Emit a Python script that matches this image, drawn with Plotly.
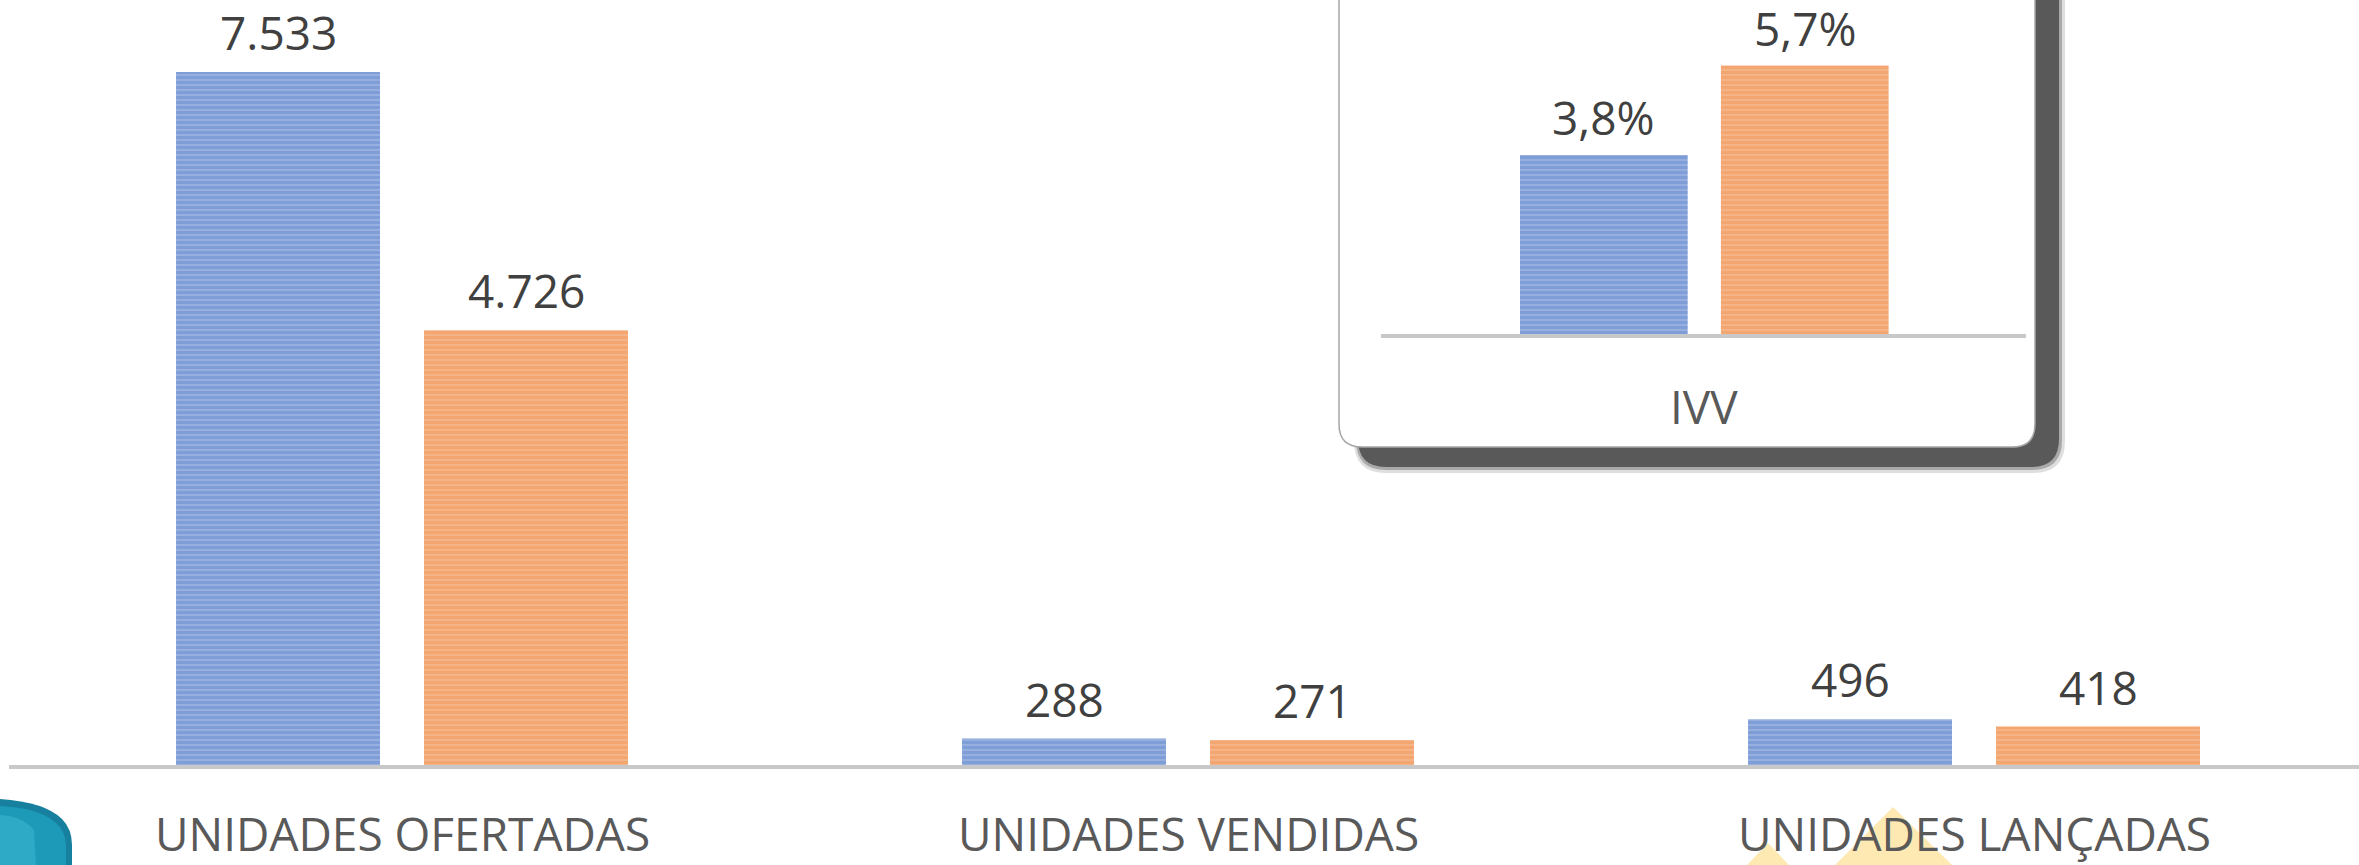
import plotly.graph_objects as go

W, H = 2359, 865

# ---- data ----
categories = ["UNIDADES OFERTADAS", "UNIDADES VENDIDAS", "UNIDADES LANÇADAS"]
series_a = [7533, 288, 496]      # blue
series_b = [4726, 271, 418]      # orange
inset_categories = ["IVV"]
inset_a = [3.8]
inset_b = [5.7]

BLUE_FG, BLUE_BG = "#4472C4", "#BACBEC"
ORANGE_FG, ORANGE_BG = "#ED7D31", "#F9CEAF"
VAL_COLOR = "#404040"
LAB_COLOR = "#595959"
FONT = "Open Sans"
FS = 46
PAT_SIZE, PAT_SOL = 5, 0.85


def fmt_int(v):
    return f"{v:,}".replace(",", ".")


def fmt_pct(v):
    return f"{v:.1f}".replace(".", ",") + "%"


def px(x):
    return x / W


def py(y):
    return 1 - y / H


def bar_marker(fg, bg):
    return dict(color=bg, line=dict(width=0),
                pattern=dict(shape="-", fgcolor=fg, bgcolor=bg,
                             size=PAT_SIZE, solidity=PAT_SOL))


fig = go.Figure()

# main bars
bw = 0.2595
fig.add_trace(go.Bar(x=categories, y=series_a, width=bw, offset=-0.2875,
                     marker=bar_marker(BLUE_FG, BLUE_BG),
                     xaxis="x", yaxis="y", hoverinfo="skip", showlegend=False))
fig.add_trace(go.Bar(x=categories, y=series_b, width=bw, offset=0.028,
                     marker=bar_marker(ORANGE_FG, ORANGE_BG),
                     xaxis="x", yaxis="y", hoverinfo="skip", showlegend=False))

# inset bars
iw = 0.26
fig.add_trace(go.Bar(x=inset_categories, y=inset_a, width=iw, offset=-0.2845,
                     marker=bar_marker(BLUE_FG, BLUE_BG),
                     xaxis="x2", yaxis="y2", hoverinfo="skip", showlegend=False))
fig.add_trace(go.Bar(x=inset_categories, y=inset_b, width=iw, offset=0.027,
                     marker=bar_marker(ORANGE_FG, ORANGE_BG),
                     xaxis="x2", yaxis="y2", hoverinfo="skip", showlegend=False))

annotations = []
# main value labels and category labels
for cat, a, b in zip(categories, series_a, series_b):
    annotations.append(dict(x=cat, y=a, xref="x", yref="y", text=fmt_int(a),
                            showarrow=False, yanchor="middle", yshift=40,
                            xshift=-124, font=dict(family=FONT, size=FS, color=VAL_COLOR)))
    annotations.append(dict(x=cat, y=b, xref="x", yref="y", text=fmt_int(b),
                            showarrow=False, yanchor="middle", yshift=40,
                            xshift=124, font=dict(family=FONT, size=FS, color=VAL_COLOR)))
    annotations.append(dict(x=cat, y=0, xref="x", yref="y", text=cat,
                            showarrow=False, yanchor="middle", yshift=-68,
                            font=dict(family=FONT, size=FS, color=LAB_COLOR)))
# inset labels
for cat, a, b in zip(inset_categories, inset_a, inset_b):
    annotations.append(dict(x=cat, y=a, xref="x2", yref="y2", text=fmt_pct(a),
                            showarrow=False, yanchor="middle", yshift=38,
                            xshift=-100, font=dict(family=FONT, size=FS, color=VAL_COLOR)))
    annotations.append(dict(x=cat, y=b, xref="x2", yref="y2", text=fmt_pct(b),
                            showarrow=False, yanchor="middle", yshift=38,
                            xshift=102, font=dict(family=FONT, size=FS, color=VAL_COLOR)))
    annotations.append(dict(x=cat, y=0, xref="x2", yref="y2", text=cat,
                            showarrow=False, yanchor="middle", yshift=-72,
                            font=dict(family=FONT, size=FS, color=LAB_COLOR)))


def rounded_box(x0, x1, ytop, yb, r):
    return (f"M {px(x0)},{py(ytop)} L {px(x0)},{py(yb - r)} "
            f"Q {px(x0)},{py(yb)} {px(x0 + r)},{py(yb)} "
            f"L {px(x1 - r)},{py(yb)} Q {px(x1)},{py(yb)} {px(x1)},{py(yb - r)} "
            f"L {px(x1)},{py(ytop)} Z")


def path_shape(path, fill, opacity=1.0, line=None):
    return dict(type="path", xref="paper", yref="paper", layer="below",
                path=path, fillcolor=fill, opacity=opacity,
                line=line if line else dict(width=0))


bx0, bx1, byb = 1339, 2035, 447
shapes = []
# soft shadow (layers)
shapes.append(path_shape(rounded_box(1354, 2065, -50, 473, 32), "#595959", 0.2))
shapes.append(path_shape(rounded_box(1356, 2062, -50, 470, 30), "#595959", 0.4))
shapes.append(path_shape(rounded_box(1358, 2059, -50, 467, 28), "#595959", 1.0))
# box
shapes.append(path_shape(rounded_box(bx0, bx1, -50, byb, 23), "white", 1.0,
                         dict(color="#a6a6a6", width=1.5)))

# decorative yellow triangles
shapes.append(path_shape(f"M {px(1835)},{py(865)} L {px(1893)},{py(807)} L {px(1952)},{py(865)} Z",
                         "#FFE9B3"))
shapes.append(path_shape(f"M {px(1747)},{py(865)} L {px(1768)},{py(843)} L {px(1789)},{py(865)} Z",
                         "#FFE9B3"))
# decorative teal logo piece
shapes.append(path_shape(
    f"M {px(0)},{py(799)} Q {px(45)},{py(802)} {px(62)},{py(819)} "
    f"Q {px(72)},{py(829)} {px(72)},{py(845)} L {px(72)},{py(866)} L {px(0)},{py(866)} Z",
    "#17809f"))
shapes.append(path_shape(
    f"M {px(0)},{py(806)} Q {px(40)},{py(808)} {px(56)},{py(823)} "
    f"Q {px(66)},{py(832)} {px(66)},{py(846)} L {px(66)},{py(866)} L {px(0)},{py(866)} Z",
    "#1c9ab8"))
shapes.append(path_shape(
    f"M {px(0)},{py(815)} Q {px(22)},{py(816)} {px(34)},{py(830)} "
    f"L {px(36)},{py(866)} L {px(0)},{py(866)} Z",
    "#3cb6cf", 0.6))

fig.update_layout(
    width=W, height=H,
    margin=dict(l=0, r=0, t=0, b=0),
    paper_bgcolor="white", plot_bgcolor="rgba(0,0,0,0)",
    barmode="overlay",
    showlegend=False,
    annotations=annotations,
    shapes=shapes,
    xaxis=dict(domain=[px(9), 1], range=[-0.5, -0.5 + 2350 / 786],
               showline=True, linecolor="#c8c8c8", linewidth=4,
               showticklabels=False, ticks="", showgrid=False, zeroline=False,
               fixedrange=True),
    yaxis=dict(domain=[py(765), 1], range=[0, 765 / (693 / 7533)],
               visible=False, showgrid=False, zeroline=False),
    xaxis2=dict(domain=[px(1381), px(2026)], range=[-0.5, 0.5], anchor="y2",
                showline=True, linecolor="#c8c8c8", linewidth=4,
                showticklabels=False, ticks="", showgrid=False, zeroline=False),
    yaxis2=dict(domain=[py(334), 1], range=[0, 334 / 47.1], anchor="x2",
                visible=False, showgrid=False, zeroline=False),
)

fig.write_html("out.html",
               config={"displayModeBar": False},
               post_script="document.body.style.margin='0';document.body.style.overflow='hidden';")
